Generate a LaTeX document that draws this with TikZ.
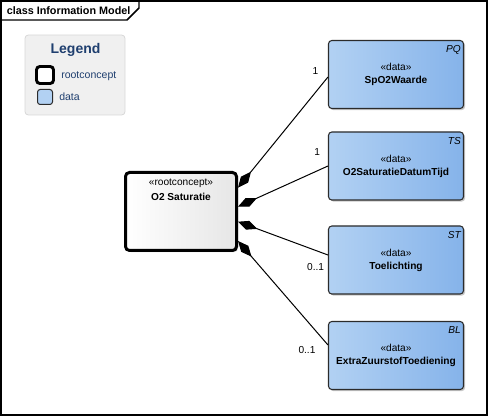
\documentclass[tikz,border=0pt]{standalone}
\usepackage{fontspec}
\setmainfont{Liberation Sans}
\usetikzlibrary{arrows.meta,positioning,calc,shadows}
\definecolor{legendbg}{HTML}{F0F0F0}
\definecolor{legendline}{HTML}{D8D8D8}
\definecolor{legendink}{HTML}{1F3F6F}
\definecolor{dataleft}{HTML}{B2D1F3}
\definecolor{dataright}{HTML}{85B3EA}
\definecolor{rootgray}{HTML}{E6E6E6}
\definecolor{boxline}{HTML}{2B2B2B}
\definecolor{shadowgray}{HTML}{B0B0B0}
\tikzset{
  framebox/.style={draw=black,line width=1.1pt},
  titletext/.style={font=\fontsize{8.1}{9.5}\selectfont\bfseries,inner sep=0pt},
  legendbox/.style={draw=legendline,fill=legendbg,line width=0.6pt,
                    rounded corners=2.5pt,minimum width=75pt,minimum height=60pt},
  legendhead/.style={font=\fontsize{10.5}{12}\selectfont\bfseries,text=legendink,inner sep=0pt},
  legendtext/.style={font=\fontsize{7.9}{9.5}\selectfont,text=legendink,inner sep=0pt},
  legroot/.style={draw=black,fill=white,line width=2.2pt,rounded corners=2.5pt,
                  minimum size=12.75pt,inner sep=0pt},
  legdata/.style={draw=boxline,fill=dataleft,line width=0.75pt,rounded corners=2pt,
                  minimum size=11.25pt,inner sep=0pt},
  rootbox/.style={draw=black,line width=2.25pt,rounded corners=3pt,
                  left color=white,right color=rootgray,
                  minimum width=83.25pt,minimum height=58.5pt,inner sep=0pt,
                  drop shadow={shadow xshift=1.2pt,shadow yshift=-1.2pt,fill=shadowgray,opacity=0.7}},
  rootlabel/.style={font=\fontsize{7.6}{11}\selectfont,align=center,inner sep=0pt},
  databox/.style={draw=boxline,line width=0.8pt,rounded corners=2.5pt,
                  left color=dataleft,right color=dataright,
                  minimum width=101.25pt,minimum height=51pt,inner sep=0pt,
                  align=center,font=\fontsize{7.6}{9.75}\selectfont,
                  drop shadow={shadow xshift=1.2pt,shadow yshift=-1.2pt,fill=shadowgray,opacity=0.7}},
  typetag/.style={font=\fontsize{7.6}{9}\selectfont\itshape,inner sep=0pt},
  multtext/.style={font=\fontsize{7.6}{9}\selectfont,inner sep=0pt},
  compose/.style={{Diamond[length=15.5pt,width=7pt]}-,line width=0.75pt,draw=black}
}
\begin{document}
\begin{tikzpicture}[x=0.75pt,y=-0.75pt]
  \useasboundingbox (0,0) rectangle (490,416);
  % diagram frame
  \draw[framebox] (1,1) rectangle (487,415);
  \draw[framebox] (1,20) -- (127,20) -- (139,8) -- (139,1);
  \node[titletext,anchor=west] (title) at (6.5,11) {class Information Model};

  % legend
  \node[legendbox] (legend) at (75,75) {};
  \node[legendhead] (leghead) at (75.5,50) {Legend};
  \node[legroot] (legrooticon) at (45,75) {};
  \node[legdata] (legdataicon) at (45,97) {};
  \node[legendtext,anchor=west] (legroottext) at (61,76) {rootconcept};
  \node[legendtext,anchor=west] (legdatatext) at (59,97) {data};

  % root concept
  \node[rootbox] (root) at (181,211.5) {};
  \node[rootlabel,anchor=north] (roottext) at ($(root.north)+(0,8)$)
    {«rootconcept»\\\textbf{O2 Saturatie}};

  % data items
  \foreach \n/\tg/\nm/\cy in {d1/PQ/SpO2Waarde/74.5, d2/TS/O2SaturatieDatumTijd/166,
                              d3/ST/Toelichting/260, d4/BL/ExtraZuurstofToediening/355.5} {
    \node[databox] (\n) at (396,\cy) {«data»\\\textbf{\nm}};
    \node[typetag,anchor=north east] (\n-tag) at ($(\n.north east)+(-3,5.5)$) {\tg};
  }

  % compositions
  \foreach \n/\a/\b/\mx/\my/\mult in {d1/-23.8/2.5/-12.4/-3.5/1, d2/-4.8/0/-10.7/-14.3/1,
                                      d3/10.2/-5/-12.4/6.7/0..1, d4/29.5/-10.5/-21/-5.5/0..1} {
    \draw[compose] ($(root.east)+(0,\a)$) -- ($(\n.west)+(0,\b)$);
    \node[multtext] (\n-mult) at ($(\n.west)+(\mx,\my)$) {\mult};
  }
\end{tikzpicture}
\end{document}
